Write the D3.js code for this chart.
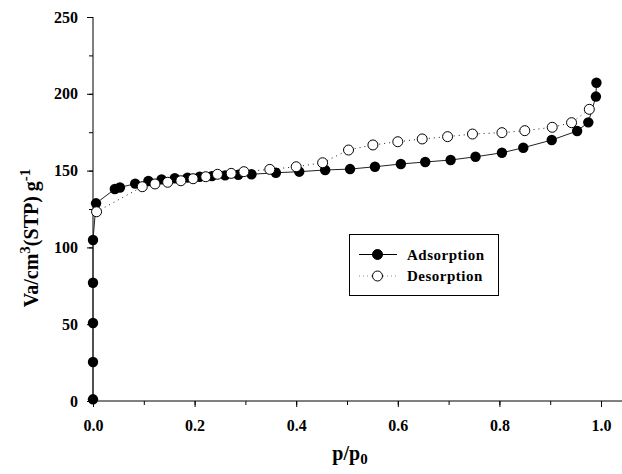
<!DOCTYPE html>
<html lang="en">
	<head>
		<meta charset="UTF-8" />
		<title>N2 isotherm</title>
		<script src="https://d3js.org/d3.v7.min.js"></script>
		<style>
			body { margin: 0; background: #fff; }
			text { font-family: "Liberation Serif", "Times New Roman", serif; font-weight: bold; }
		</style>
	</head>
	<body>
		<svg width="622" height="474"></svg>

		<script>
			const width = 622;
			const height = 474;

			// adsorption branch (filled)
			const adsP = [0.0, 0.0, 0.0, 0.0, 0.0, 0.006, 0.043, 0.053, 0.083, 0.109, 0.135, 0.161, 0.186, 0.21, 0.234, 0.26, 0.286, 0.312,
				0.36, 0.406, 0.457, 0.506, 0.555, 0.606, 0.654, 0.704, 0.753, 0.805, 0.847, 0.903, 0.953, 0.975, 0.99, 0.991];
			const adsV = [1.1, 25.4, 50.8, 77, 104.8, 128.7, 138, 139, 141.5, 143.2, 144.3, 145, 145.4, 146, 146.4, 146.9, 147.3, 147.6,
				148.6, 149.3, 150.4, 151, 152.5, 154.3, 155.6, 156.9, 159, 161.6, 164.9, 169.9, 175.8, 181.4, 198.2, 207.2];

			// desorption branch (open)
			const desP = [0.977, 0.942, 0.904, 0.85, 0.805, 0.747, 0.698, 0.648, 0.6, 0.551, 0.503, 0.452, 0.4, 0.348, 0.297, 0.272, 0.245,
				0.222, 0.197, 0.173, 0.147, 0.122, 0.097, 0.007];
			const desV = [189.9, 181.2, 178.2, 176, 174.7, 173.8, 172.1, 170.6, 168.8, 166.7, 163.4, 155.1, 152.5, 150.8, 149.3, 148.2, 147.6,
				146, 144.7, 143.4, 142.4, 141.3, 139.5, 123.2];

			const xTicks = [0, 0.2, 0.4, 0.6, 0.8, 1.0];
			const yTicks = [0, 50, 100, 150, 200, 250];

			const ads = adsP.map((p, i) => ({ p: p, v: adsV[i] }));
			const des = desP.map((p, i) => ({ p: p, v: desV[i] }));

			const x = d3.scaleLinear().domain([0, 1.04]).range([93, 93 + 508 * 1.04]);
			const y = d3.scaleLinear().domain([0, 250]).range([401, 17]);

			const svg = d3.select("svg");

			// axes: minor ticks first, then major ticks with labels
			const xAxis = svg.append("g").attr("transform", "translate(0,401)");
			xAxis.call(d3.axisBottom(x).tickValues(d3.range(0, 1.01, 0.1)).tickSize(4).tickFormat(""));
			xAxis.call((g) => g.select(".domain").attr("d", `M${x(0)},0H${width}`));
			const xMajor = svg.append("g").attr("transform", "translate(0,401)")
				.call(d3.axisBottom(x).tickValues(xTicks).tickSize(6).tickPadding(13).tickFormat(d3.format(".1f")));
			xMajor.select(".domain").remove();

			const yAxis = svg.append("g").attr("transform", "translate(93,0)");
			yAxis.call(d3.axisLeft(y).tickValues(d3.range(0, 251, 25)).tickSize(4).tickFormat(""));
			yAxis.call((g) => g.select(".domain").attr("d", `M0,${y(250)}V${y(0)}`));
			const yMajor = svg.append("g").attr("transform", "translate(93,0)")
				.call(d3.axisLeft(y).tickValues(yTicks).tickSize(6).tickPadding(9));
			yMajor.select(".domain").remove();

			svg.selectAll(".tick text").style("font-size", "16px").attr("fill", "#000");
			svg.selectAll(".tick line, .domain").attr("stroke", "#000");

			const line = d3.line().x((d) => x(d.p)).y((d) => y(d.v));

			svg.append("path").datum(ads).attr("d", line)
				.attr("fill", "none").attr("stroke", "#222").attr("stroke-width", 1);
			svg.append("path").datum(des).attr("d", line)
				.attr("fill", "none").attr("stroke", "#222").attr("stroke-width", 1).attr("stroke-dasharray", "1,4");

			svg.append("g").selectAll("circle").data(ads).join("circle")
				.attr("cx", (d) => x(d.p)).attr("cy", (d) => y(d.v)).attr("r", 5.2)
				.attr("fill", "#000");
			svg.append("g").selectAll("circle").data(des).join("circle")
				.attr("cx", (d) => x(d.p)).attr("cy", (d) => y(d.v)).attr("r", 5)
				.attr("fill", "#fff").attr("stroke", "#000").attr("stroke-width", 1);

			// axis titles
			const yt = svg.append("text")
				.attr("transform", "translate(38,238) rotate(-90)")
				.attr("text-anchor", "middle")
				.style("font-size", "20px");
			yt.append("tspan").text("Va/cm");
			yt.append("tspan").attr("baseline-shift", "super").style("font-size", "15px").text("3");
			yt.append("tspan").text("(STP) g");
			yt.append("tspan").attr("baseline-shift", "super").style("font-size", "15px").text("-1");

			const xt = svg.append("text")
				.attr("x", 350).attr("y", 460)
				.attr("text-anchor", "middle")
				.style("font-size", "20px");
			xt.append("tspan").text("p/p");
			xt.append("tspan").attr("dy", 4).style("font-size", "15px").text("0");

			// legend
			const lg = svg.append("g");
			lg.append("rect").attr("x", 349.5).attr("y", 234.5).attr("width", 149).attr("height", 61)
				.attr("fill", "#fff").attr("stroke", "#000");
			const rows = [
				{ name: "Adsorption", fill: "#000", dash: null, cy: 254.5 },
				{ name: "Desorption", fill: "#fff", dash: "1,3", cy: 276 },
			];
			rows.forEach((r) => {
				lg.append("line").attr("x1", 359).attr("x2", 397).attr("y1", r.cy).attr("y2", r.cy)
					.attr("stroke", r.dash ? "#888" : "#000").attr("stroke-dasharray", r.dash);
				lg.append("circle").attr("cx", 377.5).attr("cy", r.cy).attr("r", 5)
					.attr("fill", r.fill).attr("stroke", "#000");
				lg.append("text").attr("x", 407).attr("y", r.cy + 5)
					.style("font-size", "15px").style("letter-spacing", "0.5px").text(r.name);
			});
		</script>
	</body>
</html>
